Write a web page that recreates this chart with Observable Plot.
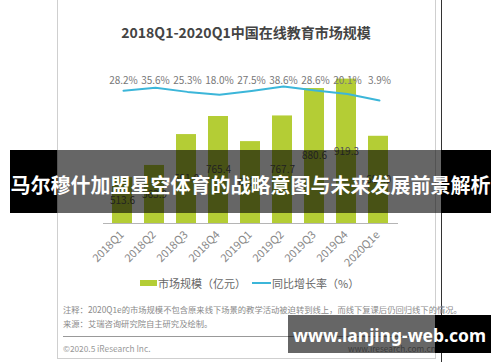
<!DOCTYPE html>
<html>
<head>
<meta charset="utf-8">
<script src="https://cdn.jsdelivr.net/npm/d3@7"></script>
<script src="https://cdn.jsdelivr.net/npm/@observablehq/plot@0.6"></script>
<style>
  html, body { margin: 0; padding: 0; background: #fff; }
  #root { position: relative; width: 500px; height: 362px; overflow: hidden; font-family: "Noto Sans CJK SC", "Noto Sans", sans-serif; }
  .abs { position: absolute; white-space: nowrap; }
  svg.layer { position: absolute; left: 0; top: 0; }
</style>
</head>
<body>
<div id="root"></div>
<script>
const categories = ["2018Q1","2018Q2","2018Q3","2018Q4","2019Q1","2019Q2","2019Q3","2019Q4","2020Q1e"];
const marketSize = [513.6, 563.9, 691.0, 765.4, 662.0, 767.7, 880.6, 919.3, 684.0];
const growthRate = [28.2, 35.6, 25.3, 18.0, 27.5, 38.6, 28.6, 20.1, 3.9];
const titleText = "2018Q1-2020Q1中国在线教育市场规模";
const legendLabels = ["市场规模（亿元）", "同比增长率（%）"];
const noteText = "注释：2020Q1e的市场规模不包含原来线下场景的教学活动被迫转到线上，而线下复课后仍回归线下的情况。";
const sourceText = "来源：艾瑞咨询研究院自主研究及绘制。";
const copyrightText = "©2020.5 iResearch Inc.";
const siteText = "www.iresearch.com.cn";
const bannerText = "马尔穆什加盟星空体育的战略意图与未来发展前景解析";
const urlText = "www.lanjing-web.com";

const data = categories.map((q, i) => ({q, v: marketSize[i], r: growthRate[i]}));
const root = document.getElementById("root");

function add(html, style) {
  const d = document.createElement("div");
  d.className = "abs";
  d.innerHTML = html;
  Object.assign(d.style, style);
  root.appendChild(d);
  return d;
}

// image frame
add("", {left: "57px", top: "-1px", width: "377px", height: "358px", border: "1px solid #cfcfcf", background: "#fff"});
add("", {left: "441px", top: "0px", width: "1px", height: "362px", background: "#333"});

const xOpts = {domain: categories, paddingInner: 0.37, paddingOuter: 0.174, axis: null};
const base = 325;

const bars = Plot.plot({
  width: 500, height: 362,
  marginLeft: 103, marginRight: 102, marginTop: 59, marginBottom: 139,
  x: xOpts,
  y: {domain: [base, 1000], axis: null},
  style: {background: "transparent", fontFamily: "'Noto Sans CJK SC', sans-serif"},
  marks: [
    Plot.barY(data, {x: "q", y1: base, y2: "v", fill: "#b4cd35"}),
    Plot.ruleY([base], {stroke: "#b5b5b5", strokeWidth: 1}),
    Plot.text(data, {x: "q", y: d => (base + d.v) / 2, text: d => d.v.toFixed(1), fill: "#555", fontSize: 10}),
    Plot.text(categories, {x: d => d, frameAnchor: "bottom", dy: 12, dx: 2, rotate: -45, textAnchor: "end", text: d => d, fill: "#888", fontSize: 11})
  ]
});
bars.classList.add("layer");
root.appendChild(bars);

const line = Plot.plot({
  width: 500, height: 362,
  marginLeft: 103, marginRight: 102, marginTop: 85.5, marginBottom: 260.5,
  x: xOpts,
  y: {domain: [0, 40], axis: null},
  style: {background: "transparent", fontFamily: "'Noto Sans CJK SC', sans-serif"},
  marks: [
    Plot.line(data, {x: "q", y: "r", stroke: "#3cb6d9", strokeWidth: 2}),
    Plot.text(data, {x: "q", frameAnchor: "top", dy: -9.5, text: d => d.r.toFixed(1) + "%", fill: "#777", fontSize: 10})
  ]
});
line.classList.add("layer");
root.appendChild(line);

// title
add(titleText, {left: "0px", width: "492px", textAlign: "center", top: "22px", fontSize: "14px", fontWeight: "bold", color: "#444", lineHeight: "20px"});

// legend
add("", {left: "140px", top: "280px", width: "17px", height: "6px", background: "#b4cd35"});
add(legendLabels[0], {left: "158px", top: "275px", fontSize: "11px", color: "#666", lineHeight: "16px"});
add("", {left: "252px", top: "282px", width: "19px", height: "2px", background: "#3cb6d9"});
add(legendLabels[1], {left: "272px", top: "275px", fontSize: "11px", color: "#666", lineHeight: "16px"});

// notes
add(noteText, {left: "63px", top: "303px", fontSize: "8.3px", color: "#8a8a8a", lineHeight: "12px"});
add(sourceText, {left: "63px", top: "317px", fontSize: "8.3px", color: "#8a8a8a", lineHeight: "12px"});
add("", {left: "63px", top: "336px", width: "367px", height: "1px", background: "#999"});
add(copyrightText, {left: "63px", top: "342px", fontSize: "8.3px", color: "#999", lineHeight: "12px"});
add(siteText, {left: "348px", width: "82px", textAlign: "right", top: "342px", fontSize: "8.3px", color: "#999", lineHeight: "12px"});

// overlay banner (middle)
add("", {left: "10px", top: "150px", width: "47px", height: "63px", background: "#000"});
add("", {left: "57px", top: "150px", width: "384px", height: "63px", background: "rgba(0,0,0,0.6)"});
add("", {left: "441px", top: "150px", width: "50px", height: "63px", background: "#000"});
add(bannerText, {left: "10px", width: "481px", textAlign: "center", top: "171px", fontSize: "20px", fontWeight: "bold", color: "#fff", lineHeight: "28px"});

// overlay banner (bottom)
add("", {left: "288px", top: "315px", width: "147px", height: "38px", background: "rgba(0,0,0,0.6)"});
add("", {left: "435px", top: "315px", width: "56px", height: "38px", background: "#000"});
add(urlText, {left: "288px", width: "203px", textAlign: "center", top: "323px", fontSize: "17.5px", fontWeight: "bold", color: "#fff", lineHeight: "24px", fontFamily: "'Noto Sans', sans-serif"});
</script>
</body>
</html>
